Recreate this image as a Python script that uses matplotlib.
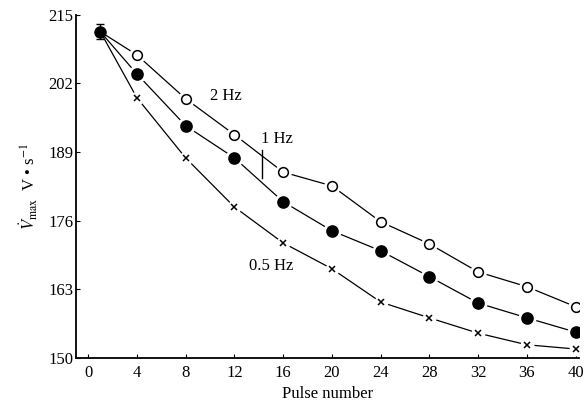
import matplotlib.pyplot as plt

# Pulse numbers and Vmax values
pulses = [1, 4, 8, 12, 16, 20, 24, 28, 32, 36, 40]
hz2 = [211.8, 207.4, 199.1, 192.3, 185.2, 182.6, 175.8, 171.6, 166.3, 163.5, 159.7]
hz1 = [211.8, 203.8, 194.0, 187.9, 179.6, 174.1, 170.3, 165.4, 160.4, 157.6, 154.9]
hz05 = [211.8, 199.3, 187.9, 178.6, 171.8, 166.9, 160.6, 157.6, 154.7, 152.5, 151.7]
start_err = 1.4

x_ticks = [0, 4, 8, 12, 16, 20, 24, 28, 32, 36, 40]
y_ticks = [150, 163, 176, 189, 202, 215]

plt.rcParams['font.family'] = ['Liberation Serif', 'DejaVu Serif']
plt.rcParams['mathtext.fontset'] = 'stix'

fig = plt.figure(figsize=(5.84, 4.11), dpi=100)
ax = fig.add_axes([0.130, 0.129, 0.862, 0.835])

# lines with a small white gap round each marker
for ys, mk, ms, fc in [(hz2, 'o', 7, 'white'), (hz1, 'o', 8, 'black'), (hz05, 'x', 5, 'black')]:
    ax.plot(pulses, ys, color='black', lw=0.9, zorder=2)
    ax.plot(pulses[1:], ys[1:], ls='none', marker='o', ms=ms + 4,
            mfc='white', mec='white', zorder=3)
    ax.plot(pulses[1:], ys[1:], ls='none', marker=mk, ms=ms,
            mfc=fc, mec='black', mew=1.1, zorder=4)

ax.errorbar(pulses[0], hz1[0], yerr=start_err, fmt='o', ms=8, color='black',
            capsize=3, elinewidth=1, zorder=5)

ax.text(10.0, 199.6, "2 Hz", fontsize=12, va='center')
ax.text(14.2, 191.5, "1 Hz", fontsize=12, va='center')
ax.plot([14.3, 14.3], [184.0, 189.4], color='black', lw=1)
ax.text(13.2, 167.5, "0.5 Hz", fontsize=12, va='center')

ax.set_xlim(-1, 40.3)
ax.set_ylim(150, 215)
ax.set_xticks(x_ticks)
ax.set_yticks(y_ticks)
ax.tick_params(direction='in', length=3, labelsize=12, colors='black')
ax.tick_params(axis='x', pad=5)
ax.tick_params(axis='y', pad=2)
ax.spines['top'].set_visible(False)
ax.spines['right'].set_visible(False)
ax.spines['left'].set_linewidth(1.3)
ax.spines['bottom'].set_linewidth(1.3)

ax.set_xlabel("Pulse number", fontsize=12, labelpad=4)
ax.set_ylabel(r"$\dot{V}_{\rm max}$  V • s$^{-1}$", fontsize=12, labelpad=6)

plt.savefig("out.png", dpi=100)
